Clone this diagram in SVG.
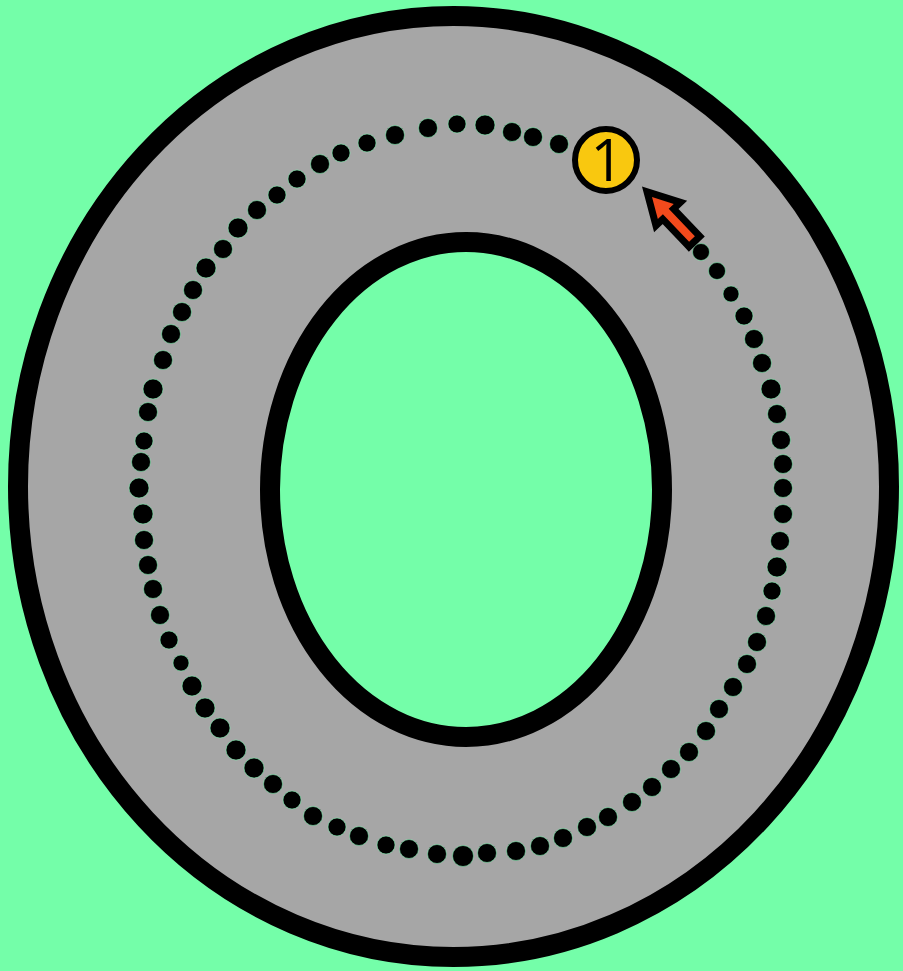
<svg xmlns="http://www.w3.org/2000/svg" width="903" height="971" viewBox="0 0 903 971">
  <style>
    .ring { stroke: #000000; stroke-width: 20; }
    .dot { fill: #000000; stroke: #7ef0b0; stroke-width: 0.6; }
    .badge { fill: #f9c80f; stroke: #000000; stroke-width: 6; }
    .num { font-family: "Open Sans", "Liberation Sans", sans-serif; font-weight: 400; font-size: 58px; fill: #000000; text-anchor: middle; }
    .arrow { fill: #f24a1c; stroke: #000000; stroke-width: 14; stroke-linejoin: miter; stroke-miterlimit: 6; paint-order: stroke; }
  </style>
  <rect id="background" x="0" y="0" width="903" height="971" fill="#74fea9"/>
  <g id="track">
    <ellipse class="ring" cx="453.5" cy="486.5" rx="435.5" ry="470.5" fill="#a6a6a6"/>
    <ellipse class="ring" cx="466" cy="489.5" rx="196" ry="247.5" fill="#74fea9"/>
  </g>
  <g id="path-dots">
    <circle class="dot" cx="559" cy="144" r="9.5"/>
    <circle class="dot" cx="533" cy="137" r="9.5"/>
    <circle class="dot" cx="512" cy="132" r="9.5"/>
    <circle class="dot" cx="485" cy="125" r="10"/>
    <circle class="dot" cx="457" cy="124" r="9"/>
    <circle class="dot" cx="428" cy="128" r="9.5"/>
    <circle class="dot" cx="395" cy="135" r="9.5"/>
    <circle class="dot" cx="367" cy="143" r="9"/>
    <circle class="dot" cx="341" cy="153" r="9"/>
    <circle class="dot" cx="320" cy="164" r="9.5"/>
    <circle class="dot" cx="297" cy="179" r="9"/>
    <circle class="dot" cx="277" cy="195" r="9"/>
    <circle class="dot" cx="257" cy="210" r="9.5"/>
    <circle class="dot" cx="238" cy="228" r="10"/>
    <circle class="dot" cx="223" cy="249" r="9.5"/>
    <circle class="dot" cx="206" cy="268" r="10"/>
    <circle class="dot" cx="193" cy="290" r="9.5"/>
    <circle class="dot" cx="182" cy="312" r="9.5"/>
    <circle class="dot" cx="171" cy="334" r="9.5"/>
    <circle class="dot" cx="163" cy="360" r="9.5"/>
    <circle class="dot" cx="153" cy="389" r="10"/>
    <circle class="dot" cx="148" cy="412" r="9.5"/>
    <circle class="dot" cx="144" cy="441" r="9"/>
    <circle class="dot" cx="141" cy="462" r="9.5"/>
    <circle class="dot" cx="139" cy="488" r="10"/>
    <circle class="dot" cx="143" cy="514" r="10"/>
    <circle class="dot" cx="144" cy="540" r="9.5"/>
    <circle class="dot" cx="148" cy="565" r="9.5"/>
    <circle class="dot" cx="153" cy="589" r="9.5"/>
    <circle class="dot" cx="160" cy="615" r="9.5"/>
    <circle class="dot" cx="169" cy="640" r="9"/>
    <circle class="dot" cx="181" cy="663" r="8"/>
    <circle class="dot" cx="192" cy="686" r="10"/>
    <circle class="dot" cx="205" cy="708" r="10"/>
    <circle class="dot" cx="220" cy="728" r="10"/>
    <circle class="dot" cx="236" cy="750" r="10"/>
    <circle class="dot" cx="254" cy="768" r="10"/>
    <circle class="dot" cx="273" cy="784" r="9.5"/>
    <circle class="dot" cx="292" cy="800" r="9"/>
    <circle class="dot" cx="313" cy="816" r="9.5"/>
    <circle class="dot" cx="337" cy="827" r="9"/>
    <circle class="dot" cx="359" cy="836" r="9.5"/>
    <circle class="dot" cx="386" cy="845" r="9"/>
    <circle class="dot" cx="409" cy="849" r="9.5"/>
    <circle class="dot" cx="437" cy="854" r="9.5"/>
    <circle class="dot" cx="463" cy="856" r="10.5"/>
    <circle class="dot" cx="487" cy="853" r="9.5"/>
    <circle class="dot" cx="516" cy="851" r="9.5"/>
    <circle class="dot" cx="540" cy="846" r="9.5"/>
    <circle class="dot" cx="563" cy="838" r="9.5"/>
    <circle class="dot" cx="587" cy="827" r="9.5"/>
    <circle class="dot" cx="608" cy="817" r="9.5"/>
    <circle class="dot" cx="632" cy="802" r="9.5"/>
    <circle class="dot" cx="652" cy="787" r="9.5"/>
    <circle class="dot" cx="671" cy="769" r="9.5"/>
    <circle class="dot" cx="689" cy="752" r="9.5"/>
    <circle class="dot" cx="706" cy="731" r="9.5"/>
    <circle class="dot" cx="719" cy="709" r="9.5"/>
    <circle class="dot" cx="733" cy="687" r="9.5"/>
    <circle class="dot" cx="747" cy="664" r="9.5"/>
    <circle class="dot" cx="757" cy="642" r="9.5"/>
    <circle class="dot" cx="766" cy="616" r="9.5"/>
    <circle class="dot" cx="772" cy="591" r="9"/>
    <circle class="dot" cx="777" cy="567" r="10"/>
    <circle class="dot" cx="780" cy="541" r="9.5"/>
    <circle class="dot" cx="783" cy="514" r="9.5"/>
    <circle class="dot" cx="783" cy="488" r="9.5"/>
    <circle class="dot" cx="783" cy="464" r="9.5"/>
    <circle class="dot" cx="781" cy="440" r="9.5"/>
    <circle class="dot" cx="777" cy="414" r="9.5"/>
    <circle class="dot" cx="771" cy="389" r="10"/>
    <circle class="dot" cx="762" cy="363" r="9.5"/>
    <circle class="dot" cx="754" cy="339" r="9.5"/>
    <circle class="dot" cx="744" cy="316" r="9"/>
    <circle class="dot" cx="731" cy="294" r="8"/>
    <circle class="dot" cx="717" cy="271" r="8.5"/>
    <circle class="dot" cx="701" cy="252" r="8.5"/>
  </g>
  <g id="connectors">
    <path class="arrow" transform="translate(692,239) rotate(-133.6)" d="M0,-4 L38,-4 L38,-11 L58,0 L38,11 L38,4 L0,4 Z"/>
  </g>
  <g id="node-1">
    <circle class="badge" cx="606" cy="160" r="31"/>
    <text class="num" x="607" y="181">1</text>
  </g>
</svg>
